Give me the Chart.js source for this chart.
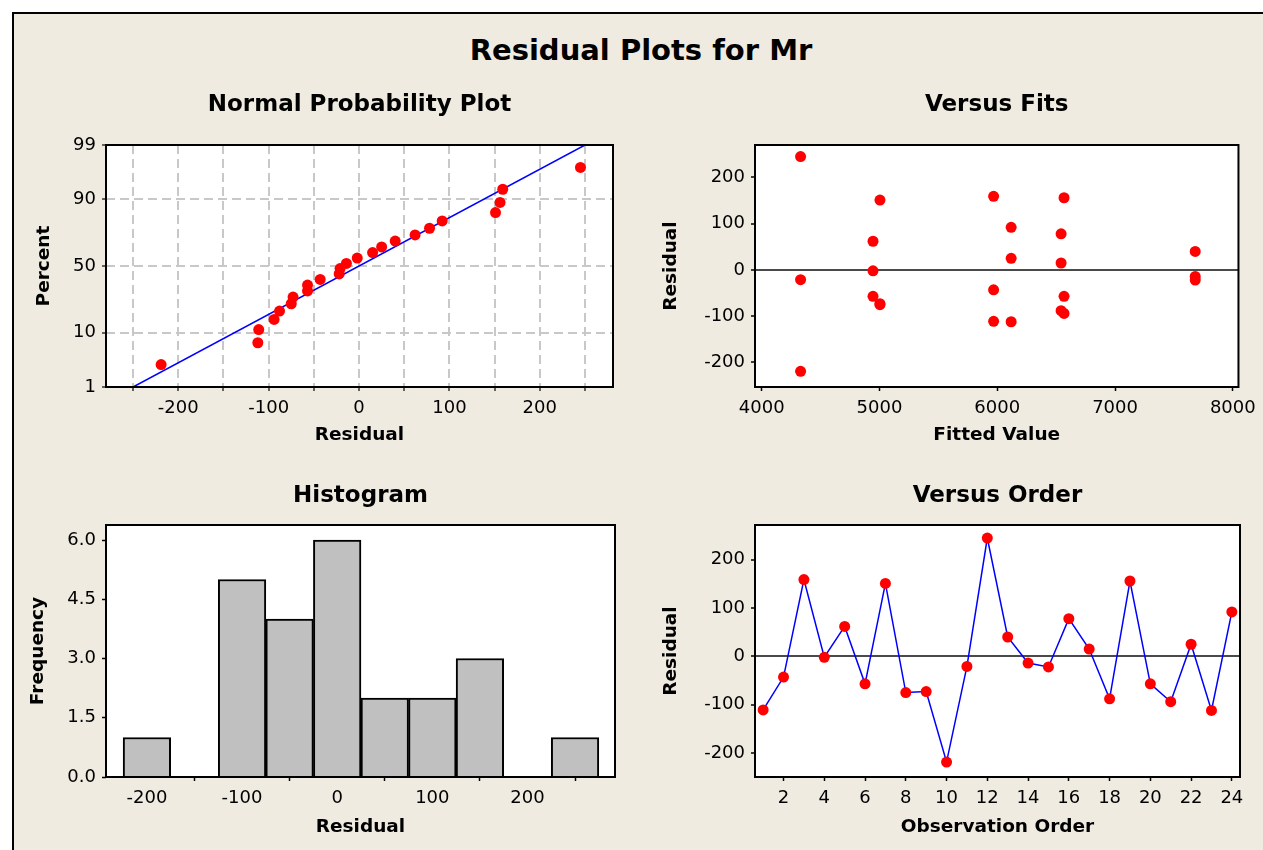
<!DOCTYPE html>
<html>
<head>
<meta charset="utf-8">
<title>Residual Plots for Mr</title>
<script src="https://cdn.jsdelivr.net/npm/chart.js@4.4.1/dist/chart.umd.min.js"></script>
<style>
  html, body { margin: 0; padding: 0; background: #fff; }
  #page { position: relative; width: 1263px; height: 850px; overflow: hidden; }
  #frame { position: absolute; left: 12px; top: 12px; width: 1300px; height: 900px; background: #efebe1;
           border-left: 2px solid #000; border-top: 2px solid #000; }
  #title { position: absolute; left: 641px; top: 33px; transform: translateX(-50%); white-space: nowrap;
           font: bold 29px 'DejaVu Sans', sans-serif; line-height: 34px; color: #000; }
  canvas { position: absolute; }
</style>
</head>
<body>
<div id="page">
  <div id="frame"></div>
  <div id="title">Residual Plots for Mr</div>
  <canvas id="normChart" width="632" height="380" style="left:0;top:80px"></canvas>
  <canvas id="fitsChart" width="631" height="380" style="left:632px;top:80px"></canvas>
  <canvas id="histChart" width="632" height="390" style="left:0;top:460px"></canvas>
  <canvas id="orderChart" width="631" height="390" style="left:632px;top:460px"></canvas>
</div>
<script>
// Données
const obsOrder = [1, 2, 3, 4, 5, 6, 7, 8, 9, 10, 11, 12, 13, 14, 15, 16, 17, 18, 19, 20, 21, 22, 23, 24];
const residuals = [-111, -43, 159, -2, 62, -57, 151, -75, -73, -219, -21, 245, 40, -14, -22, 78, 15, -88, 156, -57, -94, 25, -112, 92];
const fittedValues = [5969, 5969, 5969, 4945, 4945, 4945, 5004, 5004, 5004, 4330, 4330, 4330,
                      7681, 7681, 7681, 6542, 6542, 6542, 6567, 6567, 6567, 6118, 6118, 6118];

// pourcentages du tracé de probabilité normale (résidus triés)
const normPercent = [2.9, 7.0, 11.1, 15.2, 19.3, 23.4, 27.5, 31.6, 35.7, 39.8, 43.9, 48.0,
                     52.0, 56.1, 60.2, 64.3, 68.4, 72.5, 76.6, 80.7, 84.8, 88.9, 93.0, 97.1];
const normLineResid = [-250, 250];
const normLinePercent = [1, 99];

const histMids = [-200, -150, -100, -50, 0, 50, 100, 150, 200, 250];
const histCounts = [1, 0, 5, 4, 6, 2, 2, 3, 0, 1];

// graduations
const percentTicks = [1, 10, 50, 90, 99];
const normResidTicks = [-250, -200, -150, -100, -50, 0, 50, 100, 150, 200, 250];
const residTicks = [-200, -100, 0, 100, 200];
const fitTicks = [4000, 5000, 6000, 7000, 8000];
const histTicks = [-200, -100, 0, 100, 200];
const freqTicks = [0, 1.5, 3, 4.5, 6];
const orderTicks = [2, 4, 6, 8, 10, 12, 14, 16, 18, 20, 22, 24];

Chart.defaults.font.family = "'DejaVu Sans', sans-serif";
Chart.defaults.color = '#000';

const RED = '#ff0000';
const BLUE = '#0000ff';

// quantile de la loi normale (Acklam) : échelle de probabilité
function probit(p) {
  const a = [-39.69683028665376, 220.9460984245205, -275.9285104469687, 138.3577518672690, -30.66479806614716, 2.506628277459239];
  const b = [-54.47609879822406, 161.5858368580409, -155.6989798598866, 66.80131188771972, -13.28068155288572];
  const c = [-0.007784894002430293, -0.3223964580411365, -2.400758277161838, -2.549732539343734, 4.374664141464968, 2.938163982698783];
  const d = [0.007784695709041462, 0.3224671290700398, 2.445134137142996, 3.754408661907416];
  const tail = q => (((((c[0]*q+c[1])*q+c[2])*q+c[3])*q+c[4])*q+c[5]) / ((((d[0]*q+d[1])*q+d[2])*q+d[3])*q+1);
  if (p < 0.02425) return tail(Math.sqrt(-2 * Math.log(p)));
  if (p > 1 - 0.02425) return -tail(Math.sqrt(-2 * Math.log(1 - p)));
  const q = p - 0.5, r = q * q;
  return (((((a[0]*r+a[1])*r+a[2])*r+a[3])*r+a[4])*r+a[5])*q / (((((b[0]*r+b[1])*r+b[2])*r+b[3])*r+b[4])*r+1);
}

// fond blanc + cadre noir autour de la zone de tracé
const framePlugin = {
  id: 'frame',
  beforeDraw(chart) {
    const {ctx, chartArea: a} = chart;
    ctx.save();
    ctx.fillStyle = '#fff';
    ctx.fillRect(a.left, a.top, a.right - a.left, a.bottom - a.top);
    ctx.restore();
  },
  afterDraw(chart) {
    const {ctx, chartArea: a} = chart;
    ctx.save();
    ctx.strokeStyle = '#000';
    ctx.lineWidth = 2;
    ctx.strokeRect(a.left, a.top, a.right - a.left, a.bottom - a.top);
    ctx.restore();
  }
};

function xAxis(min, max, tickVals, title, height, fmt, grid) {
  return {
    type: 'linear', min: min, max: max, offset: false,
    afterBuildTicks: s => { s.ticks = tickVals.map(v => ({value: v})); },
    afterFit: s => { s.height = height; },
    ticks: { autoSkip: false, maxRotation: 0, padding: 7, font: {size: 18}, callback: fmt || (v => String(v)) },
    grid: grid || { drawOnChartArea: false, tickLength: 4, tickColor: '#000', tickWidth: 1.5 },
    border: { display: false },
    title: { display: true, text: title, font: {size: 18.5, weight: 'bold'}, padding: {top: 0, bottom: 3} }
  };
}

function yAxis(min, max, tickVals, title, width, titlePad, fmt, grid) {
  return {
    type: 'linear', min: min, max: max,
    afterBuildTicks: s => { s.ticks = tickVals.map(v => ({value: v})); },
    afterFit: s => { s.width = width; },
    ticks: { autoSkip: false, padding: 6, font: {size: 18}, callback: fmt || (v => String(v)) },
    grid: grid || { drawOnChartArea: false, tickLength: 4, tickColor: '#000', tickWidth: 1.5 },
    border: { display: false },
    title: { display: true, text: title, font: {size: 18.5, weight: 'bold'}, padding: {top: titlePad, bottom: 0} }
  };
}

function subTitle(text, top, bottom) {
  return { display: true, text: text, fullSize: false, font: {size: 23, weight: 'bold'}, padding: {top: top, bottom: bottom} };
}

const zeroLine = {
  drawOnChartArea: true,
  color: c => (c.tick && c.tick.value === 0) ? '#4a4a4a' : 'rgba(0,0,0,0)',
  lineWidth: 2,
  tickLength: 4, tickColor: '#000', tickWidth: 1.5
};

const dashedGrid = {
  drawOnChartArea: true, color: '#c8c8c8', lineWidth: 2,
  tickLength: 4, tickColor: '#333', tickWidth: 1.5
};

const baseOpts = { responsive: false, animation: false, events: [] };

// 1) Normal Probability Plot
const sortedResid = [...residuals].sort((a, b) => a - b);
const zTicks = percentTicks.map(p => probit(p / 100));
const normX = xAxis(-280, 281, normResidTicks, 'Residual', 62, v => (v % 100 === 0 ? String(v) : ''), dashedGrid);
normX.border.dash = [9, 5];
const normY = yAxis(probit(0.01), probit(0.99), zTicks, 'Percent', 106, 33.4, (v, i) => String(percentTicks[i]), dashedGrid);
normY.border.dash = [9, 5];

new Chart(document.getElementById('normChart'), {
  type: 'scatter',
  data: {
    datasets: [{
      data: sortedResid.map((r, i) => ({x: r, y: probit(normPercent[i] / 100)})),
      pointRadius: 5.5, pointBorderWidth: 0, backgroundColor: RED, borderColor: RED
    }, {
      data: normLineResid.map((r, i) => ({x: r, y: probit(normLinePercent[i] / 100)})),
      showLine: true, pointRadius: 0, borderColor: BLUE, borderWidth: 1.5
    }]
  },
  options: Object.assign({}, baseOpts, {
    layout: { padding: {top: 0, left: 0, right: 19, bottom: 11} },
    plugins: { legend: {display: false}, tooltip: {enabled: false}, title: subTitle('Normal Probability Plot', 11.2, 26.2) },
    scales: { x: normX, y: normY }
  }),
  plugins: [framePlugin]
});

// 2) Versus Fits
new Chart(document.getElementById('fitsChart'), {
  type: 'scatter',
  data: {
    datasets: [{
      data: fittedValues.map((f, i) => ({x: f, y: residuals[i]})),
      pointRadius: 5.5, pointBorderWidth: 0, backgroundColor: RED, borderColor: RED
    }]
  },
  options: Object.assign({}, baseOpts, {
    layout: { padding: {top: 0, left: 0, right: 23, bottom: 11} },
    plugins: { legend: {display: false}, tooltip: {enabled: false}, title: subTitle('Versus Fits', 11.2, 26.2) },
    scales: {
      x: xAxis(3943, 8048, fitTicks, 'Fitted Value', 62),
      y: yAxis(-253, 270, residTicks, 'Residual', 123, 27.9, null, zeroLine)
    }
  }),
  plugins: [framePlugin]
});

// 3) Histogram
new Chart(document.getElementById('histChart'), {
  type: 'bar',
  data: {
    datasets: [{
      data: histMids.map((m, i) => ({x: m, y: histCounts[i]})),
      backgroundColor: '#c0c0c0', borderColor: '#000', borderWidth: 2,
      barPercentage: 1, categoryPercentage: 1
    }]
  },
  options: Object.assign({}, baseOpts, {
    layout: { padding: {top: 0, left: 0, right: 17, bottom: 9} },
    plugins: { legend: {display: false}, tooltip: {enabled: false}, title: subTitle('Histogram', 22.7, 14.7) },
    scales: {
      x: xAxis(-243, 292, histTicks, 'Residual', 64),
      y: yAxis(0, 6.38, freqTicks, 'Frequency', 106, 26.9, v => v.toFixed(1))
    }
  }),
  plugins: [framePlugin]
});

// 4) Versus Order
new Chart(document.getElementById('orderChart'), {
  type: 'line',
  data: {
    datasets: [{
      data: obsOrder.map((o, i) => ({x: o, y: residuals[i]})),
      borderColor: BLUE, borderWidth: 1.5, tension: 0,
      pointRadius: 5.5, pointBorderWidth: 0, pointBackgroundColor: RED, pointBorderColor: RED
    }]
  },
  options: Object.assign({}, baseOpts, {
    layout: { padding: {top: 0, left: 0, right: 23, bottom: 9} },
    plugins: { legend: {display: false}, tooltip: {enabled: false}, title: subTitle('Versus Order', 22.7, 14.7) },
    scales: {
      x: xAxis(0.6, 24.4, orderTicks, 'Observation Order', 64),
      y: yAxis(-250, 272, residTicks, 'Residual', 123, 27.9, null, zeroLine)
    }
  }),
  plugins: [framePlugin]
});
</script>
</body>
</html>
